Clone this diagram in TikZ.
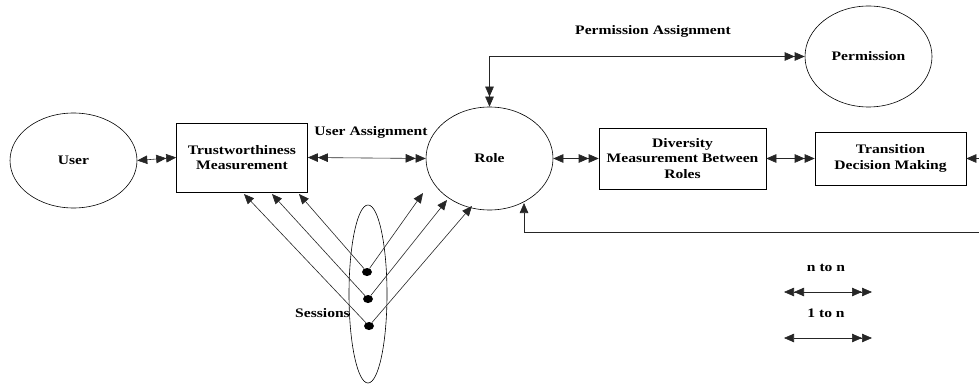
\documentclass[tikz,border=0pt]{standalone}
\usepackage{fontspec}
\setmainfont{Liberation Serif}[FakeStretch=1.2]
\usetikzlibrary{arrows.meta,shapes.geometric}
\begin{document}
\begin{tikzpicture}[x=1pt,y=-1pt,
  lbl/.style={font=\bfseries\fontsize{13}{15.5}\selectfont, align=center, inner sep=0pt},
  ell/.style={draw, ellipse, line width=0.6pt, inner sep=0pt, lbl},
  boxn/.style={draw, rectangle, line width=0.6pt, inner sep=0pt, lbl},
  dotn/.style={fill=black, ellipse, minimum width=10pt, minimum height=8pt, inner sep=0pt},
  conn/.style={line width=0.6pt, draw=black!85},
  tp/.tip={Triangle[length=10pt,width=8.5pt]},
  onen/.style={conn, {tp[]}-{tp[] tp[]}},
  nnarr/.style={conn, {tp[] tp[]}-{tp[] tp[]}},
  sarr/.style={conn, -{tp[]}}
]
\useasboundingbox (0,0) rectangle (979,385);

% nodes
\node[ell, minimum width=127pt, minimum height=95pt] (user) at (73.5,160.5) {User};
\node[boxn, minimum width=131pt, minimum height=69pt] (trust) at (242,157.5) {Trustworthiness\\Measurement};
\node[ell, minimum width=127pt, minimum height=103pt] (role) at (489.5,158.5) {Role};
\node[boxn, minimum width=167pt, minimum height=61pt] (div) at (682.5,158.5) {Diversity\\Measurement Between\\Roles};
\node[boxn, minimum width=151pt, minimum height=53pt] (trans) at (890.5,158.5) {Transition\\Decision Making};
\node[ell, minimum width=127pt, minimum height=101pt] (perm) at (868.5,56.5) {Permission};
\node[draw, ellipse, line width=0.6pt, minimum width=38pt, minimum height=178pt, inner sep=0pt] (sess) at (368,294) {};

\node[lbl] (ualbl) at (371,132) {User Assignment};
\node[lbl] (palbl) at (653,31) {Permission Assignment};
\node[lbl, anchor=east] (seslbl) at (350,313) {Sessions};

\node[dotn] (d1) at (367,272) {};
\node[dotn] (d2) at (368,299) {};
\node[dotn] (d3) at (369,326) {};

% arrow end coordinates
\coordinate (t1) at (244,194);
\coordinate (t2) at (272,194);
\coordinate (t3) at (299,194);
\coordinate (r1) at (423,193);
\coordinate (r2) at (447,200);
\coordinate (r3) at (472,206);
\coordinate (fbR) at (979,232);
\coordinate (fbtip) at (524,203);
\coordinate (trR) at (979,158.5);

% connectors
\draw[onen] (user.east) -- (trust.west);
\draw[nnarr] (trust.east) -- (role.west);
\draw[onen] (role.east) -- (div.west);
\draw[onen] (div.east) -- (trans.west);
\draw[nnarr] (role.north) |- (perm.west);
\draw[sarr] (trR) -- (trans.east);
\draw[sarr] (fbR) -| (fbtip);

\draw[sarr] (d1) -- (t3);
\draw[sarr] (d2) -- (t2);
\draw[sarr] (d3) -- (t1);
\draw[sarr] (d1) -- (r1);
\draw[sarr] (d2) -- (r2);
\draw[sarr] (d3) -- (r3);

% legend
\node[lbl] (lgnn) at (826,268) {n to n};
\coordinate (l1a) at (784,292);
\coordinate (l1b) at (872,292);
\draw[nnarr] (l1a) -- (l1b);
\node[lbl] (lg1n) at (826,313) {1 to n};
\coordinate (l2a) at (784,338);
\coordinate (l2b) at (872,338);
\draw[onen] (l2a) -- (l2b);
\end{tikzpicture}
\end{document}
